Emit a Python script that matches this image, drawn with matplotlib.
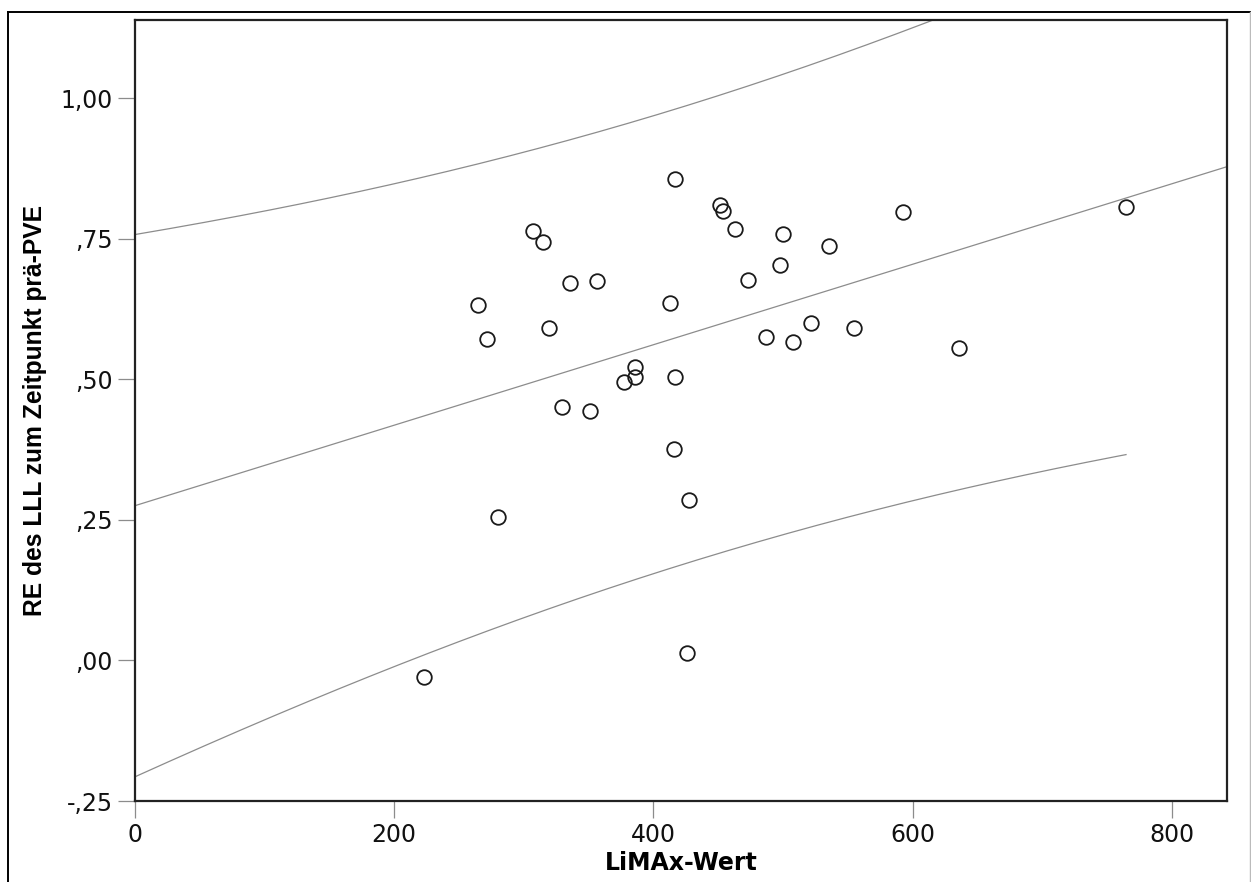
import numpy as np
import matplotlib
matplotlib.use("Agg")
import matplotlib.pyplot as plt
from matplotlib.lines import Line2D
from matplotlib.font_manager import FontProperties

# LiMAx value vs. RE of the LLL (pre-PVE)
limax = [416.7, 451.4, 453.9, 463.0, 499.8, 535.7, 497.7, 472.8, 306.9, 315.0,
         335.6, 356.7, 264.9, 412.8, 271.8, 319.7, 521.8, 486.9, 508.0, 554.8,
         385.8, 385.8, 377.5, 416.7, 329.7, 351.1, 592.8, 636.0, 764.7, 415.7,
         427.7, 279.9, 425.9, 222.8]
re_lll = [0.857, 0.810, 0.800, 0.767, 0.758, 0.737, 0.7025, 0.676, 0.764, 0.745,
          0.672, 0.675, 0.6325, 0.6355, 0.572, 0.592, 0.601, 0.5745, 0.566, 0.591,
          0.5217, 0.504, 0.495, 0.504, 0.4506, 0.4435, 0.797, 0.5555, 0.8057, 0.376,
          0.285, 0.256, 0.0126, -0.030]

x_ticks = [0, 200, 400, 600, 800]
y_ticks = [-0.25, 0.0, 0.25, 0.50, 0.75, 1.00]
y_ticklabels = ["-,25", ",00", ",25", ",50", ",75", "1,00"]

x_max = 842.6
y_min, y_max = -0.25, 1.139

plt.rcParams['font.family'] = ['DejaVu Sans']

# linear fit + 95% prediction interval
x = np.array(limax)
y = np.array(re_lll)
n = len(x)
slope, icpt = np.polyfit(x, y, 1)
resid = y - (icpt + slope * x)
s = np.sqrt(np.sum(resid ** 2) / (n - 2))
sxx = np.sum((x - x.mean()) ** 2)
t_crit = 2.037  # t(0.975, df=32)

xs_fit = np.linspace(0, x_max, 200)
xs_pi = np.linspace(0, x.max(), 200)
half = t_crit * s * np.sqrt(1 + 1 / n + (xs_pi - x.mean()) ** 2 / sxx)
pi_mid = icpt + slope * xs_pi

fig = plt.figure(figsize=(12.51, 8.82), dpi=100)
ax = fig.add_axes([0.1079, 0.0918, 0.9808 - 0.1079, 0.9773 - 0.0918])

ax.plot(xs_fit, icpt + slope * xs_fit, color='#8c8c8c', lw=0.9)
ax.plot(xs_pi, pi_mid + half, color='#8c8c8c', lw=0.9)
ax.plot(xs_pi, pi_mid - half, color='#8c8c8c', lw=0.9)
ax.plot(limax, re_lll, 'o', ms=10.5, mfc='none', mec='#1a1a1a', mew=1.3, ls='none')

ax.set_xlim(0, x_max)
ax.set_ylim(y_min, y_max)
ax.set_xticks(x_ticks)
ax.set_yticks(y_ticks)
ax.set_yticklabels(y_ticklabels)
ax.tick_params(direction='out', length=12, width=0.9, color='#8c8c8c',
               labelsize=17, labelcolor='#111111', pad=4)
for sp in ax.spines.values():
    sp.set_linewidth(1.6)
    sp.set_color('#222222')

ax.set_xlabel("LiMAx-Wert", fontsize=17, fontweight='bold', labelpad=3)
ylab_font = FontProperties(family='Liberation Sans', weight='bold', stretch='normal', size=17.7)
ax.set_ylabel("RE des LLL zum Zeitpunkt prä-PVE", fontproperties=ylab_font, labelpad=10)

# outer frame of the exported chart
fig.add_artist(Line2D([8 / 1251, 8 / 1251], [0, 1 - 12 / 882], color='black', lw=1.4, transform=fig.transFigure))
fig.add_artist(Line2D([8 / 1251, 1250 / 1251], [1 - 12 / 882, 1 - 12 / 882], color='black', lw=1.4, transform=fig.transFigure))
fig.add_artist(Line2D([1250 / 1251, 1250 / 1251], [0, 1 - 12 / 882], color='#bbbbbb', lw=1.0, transform=fig.transFigure))

fig.savefig("out.png", dpi=100)
